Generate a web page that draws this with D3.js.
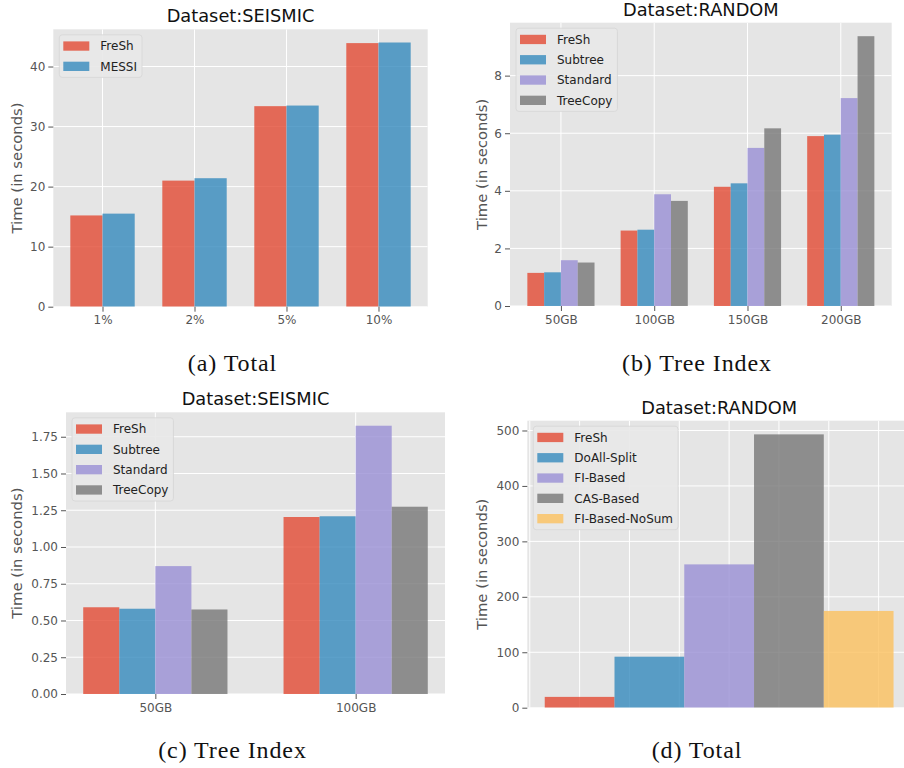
<!DOCTYPE html>
<html>
<head>
<meta charset="utf-8">
<script src="https://cdn.jsdelivr.net/npm/d3@7"></script>
<style>
  body { margin: 0; background: #fff; }
  svg { display: block; }
</style>
</head>
<body>
<svg id="chart" width="904" height="768"></svg>
<script>
// (a) total, seismic
var seismicPct = ["1%", "2%", "5%", "10%"];
var totalSeismicFresh = [15.2, 21.0, 33.4, 43.9];
var totalSeismicMessi = [15.5, 21.4, 33.5, 44.0];

// (b) tree index, random
var randomSizes = ["50GB", "100GB", "150GB", "200GB"];
var treeRandomFresh = [1.15, 2.62, 4.14, 5.90];
var treeRandomSubtree = [1.17, 2.65, 4.26, 5.95];
var treeRandomStandard = [1.59, 3.88, 5.49, 7.22];
var treeRandomTreeCopy = [1.51, 3.65, 6.17, 9.37];

// (c) tree index, seismic
var seismicSizes = ["50GB", "100GB"];
var treeSeismicFresh = [0.59, 1.204];
var treeSeismicSubtree = [0.58, 1.209];
var treeSeismicStandard = [0.87, 1.825];
var treeSeismicTreeCopy = [0.575, 1.274];

// (d) total, random
var totalRandomMethods = ["FreSh", "DoAll-Split", "FI-Based", "CAS-Based", "FI-Based-NoSum"];
var totalRandomTimes = [19.5, 92, 258.5, 493, 174.5];

var colors = ["#E24A33", "#348ABD", "#988ED5", "#777777", "#FBC15E"];
var sans = "DejaVu Sans, sans-serif";

var svg = d3.select("#chart");

function drawPanel(p) {
  var g = svg.append("g");
  var y = d3.scaleLinear()
    .domain([0, d3.max(p.series, function(s){ return d3.max(s.values); }) * 1.05])
    .range([p.bottom, p.top]);

  // bar positions in data units
  var bars = [];
  p.series.forEach(function(s, j){
    s.values.forEach(function(v, i){
      bars.push({ x: p.pos(i, j), v: v, c: colors[j] });
    });
  });
  var lo = d3.min(bars, function(b){ return b.x; }) - p.width / 2;
  var hi = d3.max(bars, function(b){ return b.x; }) + p.width / 2;
  var m = (hi - lo) * 0.05;
  var x = d3.scaleLinear().domain([lo - m, hi + m]).range([p.left, p.right]);

  var clipId = "clip" + p.id;
  g.append("clipPath").attr("id", clipId).append("rect")
    .attr("x", p.left).attr("y", p.top)
    .attr("width", p.right - p.left).attr("height", p.bottom - p.top);

  g.append("rect")
    .attr("x", p.left).attr("y", p.top)
    .attr("width", p.right - p.left).attr("height", p.bottom - p.top)
    .attr("fill", "#E5E5E5");

  var yTicks = p.yStep ? d3.range(0, y.domain()[1], p.yStep) : y.ticks(5);
  var grid = g.append("g").attr("clip-path", "url(#" + clipId + ")");
  grid.selectAll(".hg").data(yTicks).enter().append("line")
    .attr("x1", p.left).attr("x2", p.right)
    .attr("y1", function(d){ return y(d); }).attr("y2", function(d){ return y(d); })
    .attr("stroke", "#fff").attr("stroke-width", 1);
  grid.selectAll(".vg").data(p.xGrid).enter().append("line")
    .attr("y1", p.top).attr("y2", p.bottom)
    .attr("x1", function(d){ return x(d); }).attr("x2", function(d){ return x(d); })
    .attr("stroke", "#fff").attr("stroke-width", 1);

  grid.selectAll(".bar").data(bars).enter().append("rect")
    .attr("x", function(b){ return x(b.x - p.width / 2); })
    .attr("width", function(b){ return x(b.x + p.width / 2) - x(b.x - p.width / 2); })
    .attr("y", function(b){ return y(b.v); })
    .attr("height", function(b){ return y(0) - y(b.v); })
    .attr("fill", function(b){ return b.c; })
    .attr("fill-opacity", 0.8);

  // axes
  var ya = g.append("g").attr("transform", "translate(" + p.left + ",0)")
    .call(d3.axisLeft(y).tickValues(yTicks).tickSize(5).tickPadding(3).tickFormat(d3.format(p.yFormat)));
  ya.select(".domain").remove();
  ya.selectAll("line").attr("stroke", "#555");
  ya.selectAll("text").attr("fill", "#555").style("font", "12px " + sans);

  if (p.labels) {
    var xa = g.append("g").attr("transform", "translate(0," + p.bottom + ")")
      .call(d3.axisBottom(x).tickValues(p.xGrid).tickSize(5).tickPadding(4)
        .tickFormat(function(d, i){ return p.labels[i]; }));
    xa.select(".domain").remove();
    xa.selectAll("line").attr("stroke", "#555");
    xa.selectAll("text").attr("fill", "#555").style("font", "12px " + sans);
  }

  g.append("text")
    .attr("x", (p.left + Math.min(p.right, 911)) / 2).attr("y", p.top - 7)
    .attr("text-anchor", "middle")
    .style("font", "17.8px " + sans).attr("fill", "#111")
    .text(p.title);

  g.append("text")
    .attr("transform", "translate(" + p.ylabelX + "," + ((p.top + p.bottom) / 2) + ") rotate(-90)")
    .attr("text-anchor", "middle").attr("dy", "0.35em")
    .style("font", "14.8px " + sans).attr("fill", "#555")
    .text("Time (in seconds)");

  // legend
  var lx = p.left + 6, ly = p.top + 5.5;
  var leg = g.append("g");
  var box = leg.append("rect").attr("x", lx).attr("y", ly)
    .attr("rx", 3).attr("ry", 3)
    .attr("fill", "#E8E8E8").attr("fill-opacity", 0.9)
    .attr("stroke", "#d6d6d6").attr("stroke-width", 0.8);
  var maxW = 0;
  p.series.forEach(function(s, j){
    var cy = ly + 11.3 + j * 20.3;
    leg.append("rect").attr("x", lx + 4).attr("y", cy - 4.7)
      .attr("width", 26).attr("height", 9.3)
      .attr("fill", colors[j]).attr("fill-opacity", 0.8);
    var t = leg.append("text").attr("x", lx + 41).attr("y", cy).attr("dy", "0.36em")
      .style("font", "12px " + sans).attr("fill", "#222").text(s.name);
    maxW = Math.max(maxW, t.node().getComputedTextLength());
  });
  box.attr("width", 41 + maxW + 5)
    .attr("height", 11.3 + (p.series.length - 1) * 20.3 + 11);

  svg.append("text")
    .attr("x", p.capX).attr("y", p.capY)
    .attr("text-anchor", "middle")
    .style("font", "24px 'Liberation Serif', serif").style("letter-spacing", "0.9px")
    .attr("fill", "#111")
    .text(p.caption);
}

drawPanel({
  id: "a", title: "Dataset:SEISMIC", caption: "(a) Total",
  left: 53.3, right: 427.7, top: 29.3, bottom: 306.7, ylabelX: 16.7,
  capX: 232.5, capY: 371, yFormat: "d",
  labels: seismicPct, xGrid: d3.range(seismicPct.length), width: 0.35,
  pos: function(i, j){ return i + (j - 0.5) * 0.35; },
  series: [{ name: "FreSh", values: totalSeismicFresh }, { name: "MESSI", values: totalSeismicMessi }]
});

drawPanel({
  id: "b", title: "Dataset:RANDOM", caption: "(b) Tree Index",
  left: 510, right: 891.7, top: 22.7, bottom: 306, ylabelX: 481.7,
  capX: 697, capY: 371, yFormat: "d",
  labels: randomSizes, xGrid: d3.range(randomSizes.length), width: 0.18,
  pos: function(i, j){ return i + (j - 1.5) * 0.18; },
  series: [
    { name: "FreSh", values: treeRandomFresh },
    { name: "Subtree", values: treeRandomSubtree },
    { name: "Standard", values: treeRandomStandard },
    { name: "TreeCopy", values: treeRandomTreeCopy }
  ]
});

drawPanel({
  id: "c", title: "Dataset:SEISMIC", caption: "(c) Tree Index",
  left: 66, right: 445, top: 412.3, bottom: 694, ylabelX: 16.7,
  capX: 232.5, capY: 757.7, yFormat: ".2f", yStep: 0.25,
  labels: seismicSizes, xGrid: d3.range(seismicSizes.length), width: 0.18,
  pos: function(i, j){ return i + (j - 1.5) * 0.18; },
  series: [
    { name: "FreSh", values: treeSeismicFresh },
    { name: "Subtree", values: treeSeismicSubtree },
    { name: "Standard", values: treeSeismicStandard },
    { name: "TreeCopy", values: treeSeismicTreeCopy }
  ]
});

drawPanel({
  id: "d", title: "Dataset:RANDOM", caption: "(d) Total",
  left: 527.3, right: 911, top: 420.7, bottom: 707.7, ylabelX: 481.7,
  capX: 697, capY: 757.7, yFormat: "d",
  labels: null, xGrid: d3.range(-0.25, 1.75, 0.25), width: 0.35,
  pos: function(i, j){ return j * 0.35; },
  series: totalRandomMethods.map(function(name, j){
    return { name: name, values: [totalRandomTimes[j]] };
  })
});
</script>
</body>
</html>
